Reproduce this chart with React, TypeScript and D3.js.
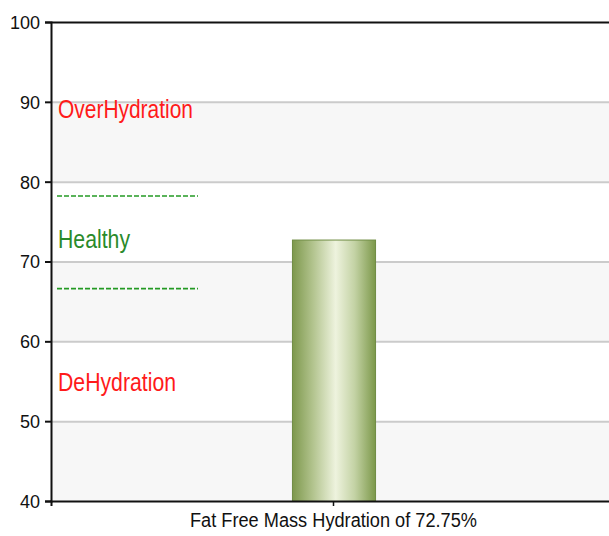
import React, { useEffect, useRef } from "react";
import * as d3 from "d3";

const categories = ["Fat Free Mass Hydration of 72.75%"];
const values = [72.75];
const yTicks = [40, 50, 60, 70, 80, 90, 100];
const zones = [
  { label: "OverHydration", at: 88, color: "#ff1a1a", len: 135 },
  { label: "Healthy", at: 71.7, color: "#2a8a2a", len: 72 },
  { label: "DeHydration", at: 53.8, color: "#ff1a1a", len: 118 },
];
const limits = [78.2, 66.6];

const FONT = "'Liberation Sans', Arial, sans-serif";

function App() {
  const ref = useRef<SVGSVGElement>(null);

  useEffect(() => {
    const width = 609;
    const height = 536;
    const margin = { top: 22, left: 51, bottom: 35, right: -7 };
    const uWidth = width - margin.left - margin.right;
    const uHeight = height - margin.top - margin.bottom;

    const svg = d3.select(ref.current);
    svg.selectAll("*").remove();

    const defs = svg.append("defs");
    const grad = defs
      .append("linearGradient")
      .attr("id", "barGrad")
      .attr("x1", "0%")
      .attr("x2", "100%")
      .attr("y1", "0%")
      .attr("y2", "0%");
    [
      ["0%", "#7d984c"],
      ["25%", "#b3c48f"],
      ["52%", "#eef3de"],
      ["75%", "#c3d2a4"],
      ["100%", "#7c984a"],
    ].forEach(([o, c]) => grad.append("stop").attr("offset", o).attr("stop-color", c));

    const g = svg
      .append("g")
      .attr("transform", `translate(${margin.left},${margin.top})`);

    const y = d3.scaleLinear().domain([40, 100]).range([uHeight, 0]);
    const x = d3
      .scaleBand()
      .domain(categories)
      .range([0, uWidth])
      .paddingInner(0)
      .paddingOuter(2.9);

    // alternating bands
    const bands = d3.range(0, yTicks.length - 1).filter((i) => i % 2 === 0);
    g.selectAll(".band")
      .data(bands)
      .enter()
      .append("rect")
      .attr("x", 0)
      .attr("width", uWidth)
      .attr("y", (i) => y(yTicks[i + 1]))
      .attr("height", (i) => y(yTicks[i]) - y(yTicks[i + 1]))
      .attr("fill", "#f7f7f7");

    // grid lines
    g.selectAll(".grid")
      .data(yTicks.slice(1, -1))
      .enter()
      .append("line")
      .attr("x1", 0)
      .attr("x2", uWidth)
      .attr("y1", (d) => y(d) + 0.5)
      .attr("y2", (d) => y(d) + 0.5)
      .attr("stroke", "#cbcbcb")
      .attr("stroke-width", 2);

    // top border
    g.append("line")
      .attr("x1", 0)
      .attr("x2", uWidth)
      .attr("y1", y(100) + 0.5)
      .attr("y2", y(100) + 0.5)
      .attr("stroke", "#111")
      .attr("stroke-width", 2);

    // bar
    g.selectAll(".bar")
      .data(values)
      .enter()
      .append("rect")
      .attr("x", (d, i) => x(categories[i])! + 0.5)
      .attr("width", x.bandwidth())
      .attr("y", (d) => y(d) + 0.5)
      .attr("height", (d) => y(40) - y(d))
      .attr("fill", "url(#barGrad)")
      .attr("stroke", "#6f8b43")
      .attr("stroke-width", 1);

    // limit lines
    g.selectAll(".limit")
      .data(limits)
      .enter()
      .append("line")
      .attr("x1", 6)
      .attr("x2", 147)
      .attr("y1", (d) => y(d))
      .attr("y2", (d) => y(d))
      .attr("stroke", "#249a24")
      .attr("stroke-width", 1.6)
      .attr("stroke-dasharray", "5,2");

    // zone labels
    g.selectAll(".zone")
      .data(zones)
      .enter()
      .append("text")
      .attr("x", 7)
      .attr("y", (d) => y(d.at))
      .attr("fill", (d) => d.color)
      .attr("textLength", (d) => d.len)
      .attr("lengthAdjust", "spacingAndGlyphs")
      .style("font-family", FONT)
      .style("font-size", "25px")
      .text((d) => d.label);

    // y axis
    const yAxis = g
      .append("g")
      .call(d3.axisLeft(y).tickValues(yTicks).tickSize(6).tickPadding(5));
    yAxis.select(".domain").attr("stroke", "#111").attr("stroke-width", 2);
    yAxis.selectAll(".tick line").attr("stroke", "#111").attr("stroke-width", 2);
    yAxis
      .selectAll(".tick text")
      .attr("fill", "#111")
      .attr("dy", "0.36em")
      .style("font-family", FONT)
      .style("font-size", "18px");

    // x axis
    const xAxis = g
      .append("g")
      .attr("transform", `translate(0,${uHeight})`)
      .call(d3.axisBottom(x).tickSizeOuter(0).tickSize(5).tickPadding(7));
    xAxis.select(".domain").attr("stroke", "#111").attr("stroke-width", 2);
    xAxis.selectAll(".tick line").attr("stroke", "#111").attr("stroke-width", 1.5);
    xAxis
      .selectAll(".tick text")
      .attr("fill", "#111")
      .attr("textLength", 287)
      .attr("lengthAdjust", "spacingAndGlyphs")
      .style("font-family", FONT)
      .style("font-size", "20px");
  }, []);

  return (
    <svg
      ref={ref}
      width={609}
      height={536}
      style={{ position: "absolute", left: 0, top: 0, background: "#fff" }}
    ></svg>
  );
}

export default App;
